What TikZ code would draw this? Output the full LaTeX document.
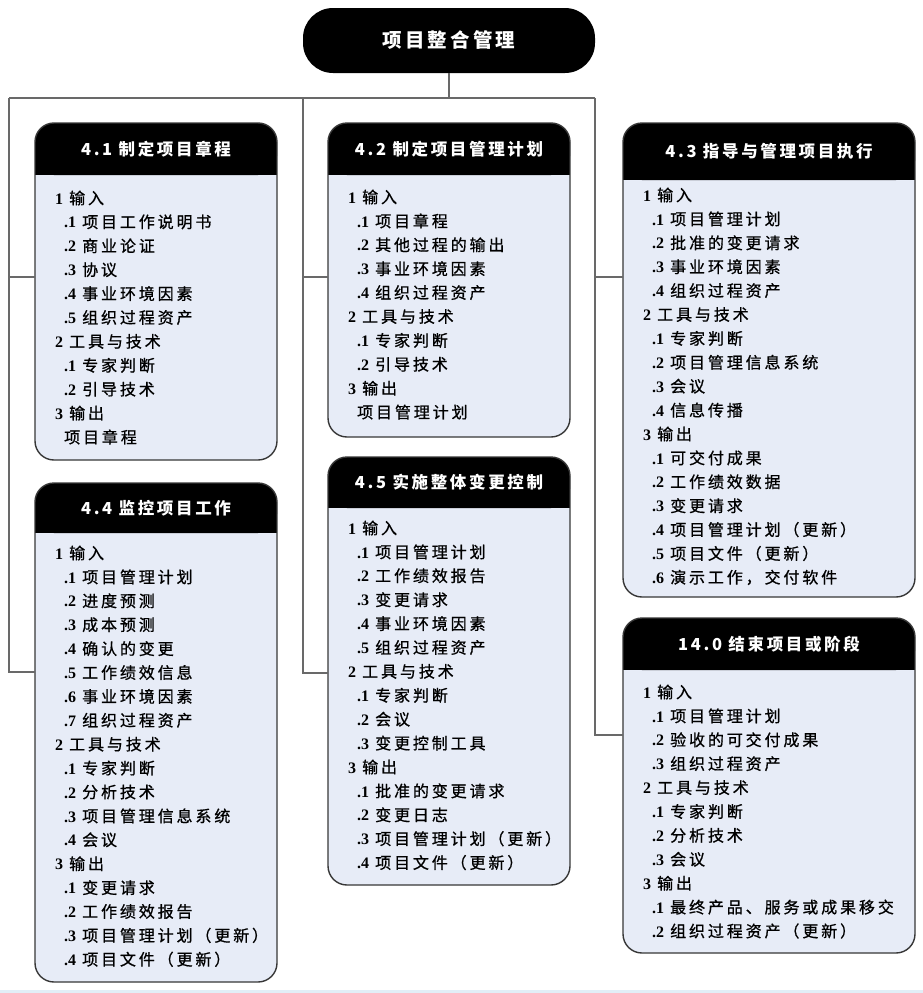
\documentclass[tikz,border=0pt]{standalone}
\usepackage{fontspec}
\setmainfont{Liberation Serif}
\newfontfamily\cjk[LetterSpace=18,FakeBold=0.8]{Noto Sans CJK SC}
\newfontfamily\cjkhead[LetterSpace=16]{Noto Sans CJK SC}
\definecolor{bodyfill}{RGB}{231,236,247}
\definecolor{conncol}{RGB}{105,105,105}
\definecolor{edgecol}{RGB}{55,55,55}
\definecolor{stripcol}{RGB}{226,238,247}
\tikzset{
  boxbody/.style={fill=bodyfill, rounded corners=19pt, inner sep=0pt, outer sep=0pt},
  boxedge/.style={draw=edgecol, line width=1.4pt, rounded corners=19pt},
  headtext/.style={text=white, inner sep=0pt, font=\cjkhead\bfseries\fontsize{16.5}{18}\selectfont},
  linetext/.style={inner sep=0pt, anchor=west, font=\fontsize{16}{18}\selectfont},
  conn/.style={draw=conncol, line width=1.8pt},
  topbox/.style={fill=black, rounded corners=30pt, minimum width=292pt, minimum height=65pt,
    inner sep=0pt, text=white, font=\cjkhead\bfseries\fontsize{19.5}{22}\selectfont}
}
\newcommand\procbox[9]{%
  \node[boxbody, minimum width={#4-#2}, minimum height={#5-#3}, anchor=north west] (#1) at (#2,#3) {};
  \fill[black, rounded corners=19pt] (#2,#3) rectangle (#4,#6);
  \fill[black] ({#2},{#6-24}) rectangle ({#4},{#6});
  \draw[boxedge] (#1.north west) rectangle (#1.south east);
  \node[headtext] (#1t) at ({(#2+#4)/2},{(#3+#6)/2}) {#7};
  \foreach \lv/\nm/\tx [count=\i] in {#9} {
    \node[linetext] (#1-\i) at ({#2+20+9*\lv},{#8+23.9*(\i-1)})
      {\expandafter\ifx\expandafter\relax\nm\relax\else{\bfseries\nm}\hspace{6pt}\fi{\cjk\tx}};
  }
}
\begin{document}
\begin{tikzpicture}[x=1pt,y=-1pt]
\useasboundingbox (0,0) rectangle (923,993);
\fill[stripcol] (0,990) rectangle (923,993);

% top node
\node[topbox] (top) at (449,40.5) {项目整合管理};

% process boxes
\procbox{b41}{35}{123}{277}{460}{175}{4.1 制定项目章程}{198}{%
  0/1/输入, 1/.1/项目工作说明书, 1/.2/商业论证, 1/.3/协议, 1/.4/事业环境因素, 1/.5/组织过程资产,
  0/2/工具与技术, 1/.1/专家判断, 1/.2/引导技术, 0/3/输出, 1//项目章程}
\procbox{b42}{328}{123}{570}{437}{175}{4.2 制定项目管理计划}{197}{%
  0/1/输入, 1/.1/项目章程, 1/.2/其他过程的输出, 1/.3/事业环境因素, 1/.4/组织过程资产,
  0/2/工具与技术, 1/.1/专家判断, 1/.2/引导技术, 0/3/输出, 1//项目管理计划}
\procbox{b43}{623}{123}{915}{597}{180}{4.3 指导与管理项目执行}{195}{%
  0/1/输入, 1/.1/项目管理计划, 1/.2/批准的变更请求, 1/.3/事业环境因素, 1/.4/组织过程资产,
  0/2/工具与技术, 1/.1/专家判断, 1/.2/项目管理信息系统, 1/.3/会议, 1/.4/信息传播,
  0/3/输出, 1/.1/可交付成果, 1/.2/工作绩效数据, 1/.3/变更请求, 1/.4/项目管理计划（更新）,
  1/.5/项目文件（更新）, 1/.6/演示工作，交付软件}
\procbox{b44}{35}{483}{277}{982}{533}{4.4 监控项目工作}{553}{%
  0/1/输入, 1/.1/项目管理计划, 1/.2/进度预测, 1/.3/成本预测, 1/.4/确认的变更, 1/.5/工作绩效信息,
  1/.6/事业环境因素, 1/.7/组织过程资产, 0/2/工具与技术, 1/.1/专家判断, 1/.2/分析技术,
  1/.3/项目管理信息系统, 1/.4/会议, 0/3/输出, 1/.1/变更请求, 1/.2/工作绩效报告,
  1/.3/项目管理计划（更新）, 1/.4/项目文件（更新）}
\procbox{b45}{328}{457}{570}{885}{508}{4.5 实施整体变更控制}{528}{%
  0/1/输入, 1/.1/项目管理计划, 1/.2/工作绩效报告, 1/.3/变更请求, 1/.4/事业环境因素, 1/.5/组织过程资产,
  0/2/工具与技术, 1/.1/专家判断, 1/.2/会议, 1/.3/变更控制工具, 0/3/输出, 1/.1/批准的变更请求,
  1/.2/变更日志, 1/.3/项目管理计划（更新）, 1/.4/项目文件（更新）}
\procbox{b140}{623}{618}{915}{953}{670}{14.0 结束项目或阶段}{692}{%
  0/1/输入, 1/.1/项目管理计划, 1/.2/验收的可交付成果, 1/.3/组织过程资产, 0/2/工具与技术,
  1/.1/专家判断, 1/.2/分析技术, 1/.3/会议, 0/3/输出, 1/.1/最终产品、服务或成果移交,
  1/.2/组织过程资产（更新）}

% connectors
\coordinate (jl) at (9,98);
\coordinate (jm) at (303,98);
\coordinate (jr) at (595,98);
\coordinate (y41) at (0,277);
\coordinate (y44) at (0,672);
\coordinate (y45) at (0,673);
\coordinate (y140) at (0,735);
\draw[conn] (top.south) -- (top.south |- jl);
\draw[conn] (jl) -- (jr);
\draw[conn] (jl) |- (b44.west |- y44);
\draw[conn] (jl |- y41) -- (b41.west |- y41);
\draw[conn] (jm) |- (b45.west |- y45);
\draw[conn] (jm |- y41) -- (b42.west |- y41);
\draw[conn] (jr) |- (b140.west |- y140);
\draw[conn] (jr |- y41) -- (b43.west |- y41);
\end{tikzpicture}
\end{document}
